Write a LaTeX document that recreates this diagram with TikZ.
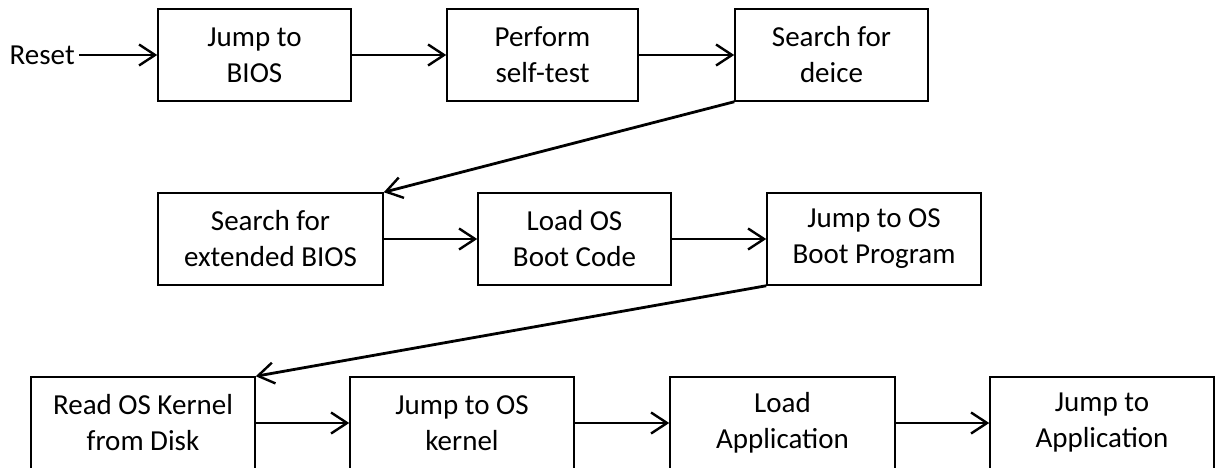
\documentclass[tikz,border=0pt]{standalone}
\usepackage{fontspec}
\setmainfont{Carlito}
\usepackage{tikz}
\usetikzlibrary{arrows.meta}

\tikzset{
  box/.style={draw, line width=1.5pt, minimum height=92pt, align=center, inner sep=0pt,
    font=\fontsize{29}{36}\selectfont},
  arr/.style={line width=2.8pt, -{Straight Barb[length=16pt,width=21pt,line width=2.4pt]}}
}

\begin{document}
\begin{tikzpicture}[x=1pt,y=-1pt]
\useasboundingbox (0,0) rectangle (1216,468);
%row 1
\node[font=\fontsize{29}{36}\selectfont, anchor=west, inner xsep=4.5pt, inner ysep=0pt] (reset) at (5,55) {Reset};
\node[box, minimum width=193pt] (jbios) at (254.5,55) {Jump to\\BIOS};
\node[box, minimum width=191pt] (stest) at (542.5,55) {Perform\\self-test};
\node[box, minimum width=193pt] (sdev) at (831.5,55) {Search for\\deice};
%row 2
\node[box, minimum width=225pt] (sext) at (270.5,239) {Search for\\extended BIOS};
\node[box, minimum width=193pt] (lboot) at (574.5,239) {Load OS\\Boot Code};
\node[box, minimum width=214pt] (jboot) at (874,239) {Jump to OS\\Boot Program};
%row 3
\node[box, minimum width=224pt] (rker) at (143,423) {Read OS Kernel\\from Disk};
\node[box, minimum width=224pt] (jker) at (462,423) {Jump to OS\\kernel};
\node[box, minimum width=225pt] (lapp) at (782.5,423) {Load\\Application};
\node[box, minimum width=224pt] (japp) at (1102,423) {Jump to\\Application};
%arrows
\draw[arr] (reset) -- (jbios);
\draw[arr] (jbios) -- (stest);
\draw[arr] (stest) -- (sdev);
\draw[arr] (sdev.south west) -- (sext.north east);
\draw[arr] (sext) -- (lboot);
\draw[arr] (lboot) -- (jboot);
\draw[arr] (jboot.south west) -- (rker.north east);
\draw[arr] (rker) -- (jker);
\draw[arr] (jker) -- (lapp);
\draw[arr] (lapp) -- (japp);
\end{tikzpicture}
\end{document}
